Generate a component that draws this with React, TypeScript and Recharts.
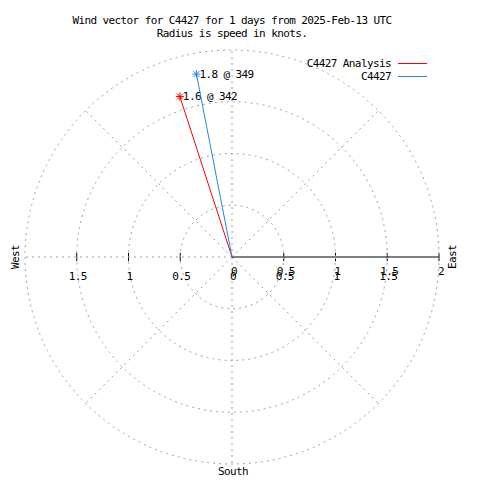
import React from 'react';
import {
    ScatterChart,
    Scatter,
    XAxis,
    YAxis,
    ReferenceLine,
    ReferenceDot
} from 'recharts';

// Wind vectors: speed in knots, direction in degrees (clockwise from north)
const SERIES_NAMES = ['C4427 Analysis', 'C4427'];
const SPEEDS = [1.63, 1.8];
const DIRECTIONS = [342, 349];
const SERIES_COLORS = ['#ff0000', '#1e88e8'];

// Polar grid / radial ticks
const RINGS = [0.5, 1, 1.5, 2];
const SPOKE_ANGLES = [0, 45, 135, 180, 225, 270, 315];
const AXIS_TICKS = [-1.5, -1, -0.5, 0.5, 1, 1.5, 2];
const X_TICK_LABELS = [-1.5, -1, -0.5, 0, 0.5, 1, 1.5];
const R_TICK_LABELS = [0, 0.5, 1, 1.5, 2];

const TITLE_LINES = [
    'Wind vector for C4427 for 1 days from 2025-Feb-13 UTC',
    'Radius is speed in knots.'
];

const MAX_R = 2;
const W = 480;
const H = 480;
const MARGIN = { top: 50, right: 41, bottom: 16, left: 25 };
const PLOT = W - MARGIN.left - MARGIN.right; // 414
const PX_PER_KNOT = PLOT / 2 / MAX_R;

const FONT = '"DejaVu Sans Mono", monospace';
const GRID = '#a0a0a0';

const rad = (deg: number) => (deg * Math.PI) / 180;

const vectors = SPEEDS.map((s, i) => ({
    name: SERIES_NAMES[i],
    color: SERIES_COLORS[i],
    data: [
        { x: 0, y: 0, end: false },
        {
            x: s * Math.sin(rad(DIRECTIONS[i])),
            y: s * Math.cos(rad(DIRECTIONS[i])),
            end: true,
            label: `${s.toFixed(1)} @ ${DIRECTIONS[i]}`
        }
    ]
}));

const txt = {
    fontFamily: FONT,
    fontSize: 11,
    letterSpacing: -0.6,
    fill: '#000'
} as const;

const StarShape = (color: string) => (props: any) => {
    const { cx, cy, payload } = props;
    if (!payload || !payload.end) return <g />;
    const a = 4;
    const d = 3;
    return (
        <g>
            <line x1={cx - a} y1={cy} x2={cx + a} y2={cy} stroke={color} strokeWidth={1} />
            <line x1={cx} y1={cy - a} x2={cx} y2={cy + a} stroke={color} strokeWidth={1} />
            <line x1={cx - d} y1={cy - d} x2={cx + d} y2={cy + d} stroke={color} strokeWidth={1} />
            <line x1={cx - d} y1={cy + d} x2={cx + d} y2={cy - d} stroke={color} strokeWidth={1} />
            <text x={cx + 3} y={cy} dominantBaseline="central" {...txt}>
                {payload.label}
            </text>
        </g>
    );
};

const textAt = (label: string, dx: number, dy: number, rotate = false) => (props: any) => {
    const x = props.cx + dx;
    const y = props.cy + dy;
    return (
        <text
            x={x}
            y={y}
            textAnchor="middle"
            dominantBaseline="central"
            transform={rotate ? `rotate(-90 ${x} ${y})` : undefined}
            {...txt}
        >
            {label}
        </text>
    );
};

export default function App() {
    return (
        <div style={{ position: 'absolute', left: 0, top: 0, width: W, height: H, background: '#fff' }}>
            {TITLE_LINES.map((t, i) => (
                <div
                    key={t}
                    style={{
                        position: 'absolute',
                        left: 0,
                        width: 464,
                        top: 14 + i * 13,
                        textAlign: 'center',
                        fontFamily: FONT,
                        fontSize: 11,
                        letterSpacing: -0.6,
                        lineHeight: '13px',
                        whiteSpace: 'pre'
                    }}
                >
                    {t}
                </div>
            ))}
            <ScatterChart width={W} height={H} margin={MARGIN}>
                <XAxis type="number" dataKey="x" domain={[-MAX_R, MAX_R]} allowDataOverflow hide />
                <YAxis type="number" dataKey="y" domain={[-MAX_R, MAX_R]} allowDataOverflow hide />

                {RINGS.map(r => (
                    <ReferenceDot
                        key={`ring-${r}`}
                        x={0}
                        y={0}
                        r={r * PX_PER_KNOT}
                        fill="none"
                        stroke={GRID}
                        strokeDasharray="2 4"
                        ifOverflow="visible"
                    />
                ))}
                {SPOKE_ANGLES.map(a => (
                    <ReferenceLine
                        key={`spoke-${a}`}
                        segment={[
                            { x: 0, y: 0 },
                            { x: MAX_R * Math.sin(rad(a)), y: MAX_R * Math.cos(rad(a)) }
                        ]}
                        stroke={GRID}
                        strokeDasharray="2 4"
                        ifOverflow="visible"
                    />
                ))}

                {/* radial axis toward east */}
                <ReferenceLine
                    segment={[{ x: 0, y: 0 }, { x: MAX_R, y: 0 }]}
                    stroke="#000"
                    ifOverflow="visible"
                />
                {AXIS_TICKS.map(v => (
                    <ReferenceLine
                        key={`tick-${v}`}
                        segment={[{ x: v, y: -0.04 }, { x: v, y: 0.04 }]}
                        stroke="#000"
                        ifOverflow="visible"
                    />
                ))}
                {X_TICK_LABELS.map(v => (
                    <ReferenceDot
                        key={`xl-${v}`}
                        x={v}
                        y={0}
                        r={0}
                        ifOverflow="visible"
                        shape={textAt(String(Math.abs(v)), 1, 19)}
                    />
                ))}
                {R_TICK_LABELS.map(v => (
                    <ReferenceDot
                        key={`rl-${v}`}
                        x={v}
                        y={0}
                        r={0}
                        ifOverflow="visible"
                        shape={textAt(String(v), 2, 14)}
                    />
                ))}

                <ReferenceDot x={-MAX_R} y={0} r={0} ifOverflow="visible" shape={textAt('West', -10, 0, true)} />
                <ReferenceDot x={MAX_R} y={0} r={0} ifOverflow="visible" shape={textAt('East', 13, 0, true)} />
                <ReferenceDot x={0} y={-MAX_R} r={0} ifOverflow="visible" shape={textAt('South', 1, 7)} />

                {vectors.map(v => (
                    <Scatter
                        key={v.name}
                        name={v.name}
                        data={v.data}
                        line={{ stroke: v.color, strokeWidth: 1 }}
                        lineType="joint"
                        shape={StarShape(v.color)}
                        isAnimationActive={false}
                    />
                ))}
            </ScatterChart>
            {/* legend */}
            <svg
                width={W}
                height={40}
                style={{ position: 'absolute', left: 0, top: 50, pointerEvents: 'none' }}
            >
                {SERIES_NAMES.map((n, i) => (
                    <g key={n}>
                        <text x={391} y={13 + i * 13} textAnchor="end" dominantBaseline="central" {...txt}>
                            {n}
                        </text>
                        <line
                            x1={398}
                            x2={427}
                            y1={13.5 + i * 13}
                            y2={13.5 + i * 13}
                            stroke={SERIES_COLORS[i]}
                            strokeWidth={1}
                        />
                    </g>
                ))}
            </svg>
        </div>
    );
}
